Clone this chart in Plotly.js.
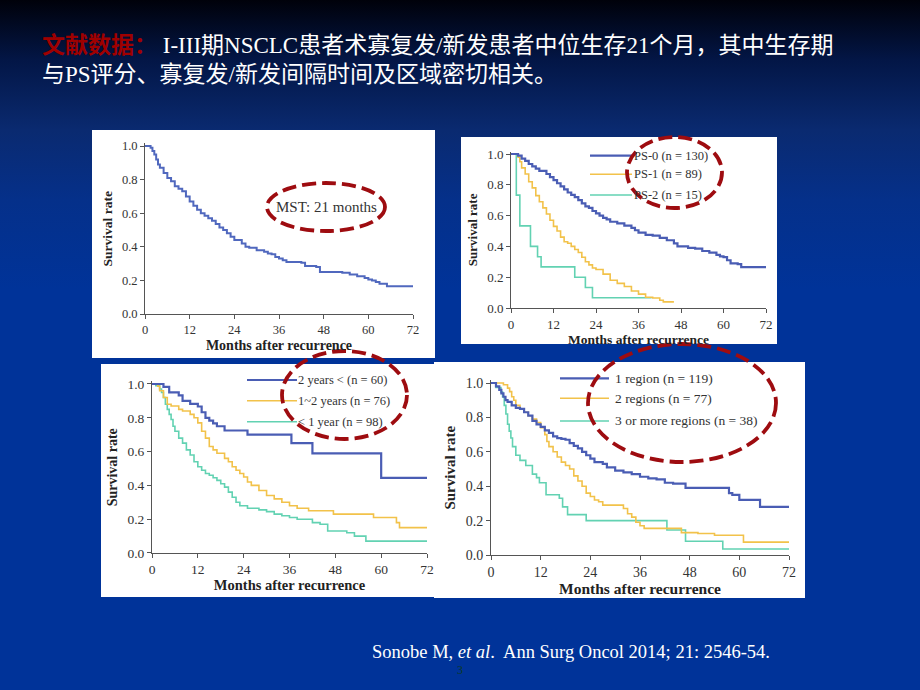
<!DOCTYPE html>
<html>
<head>
<meta charset="utf-8">
<script src="https://cdn.plot.ly/plotly-3.0.1.min.js"></script>
<style>
html,body{margin:0;padding:0;}
body{width:920px;height:690px;overflow:hidden;
background:linear-gradient(to bottom,#00010a 0px,#031646 60px,#0a2a70 130px,#05308a 200px,#003399 290px,#003399 690px);}
#chart{width:920px;height:690px;}
</style>
</head>
<body>
<div id="chart"></div>
<script>
// ---------- data ----------
const xTickVals = [0, 12, 24, 36, 48, 60, 72];
const yTickVals = [0, 0.2, 0.4, 0.6, 0.8, 1.0];
const yTickText = ['0.0', '0.2', '0.4', '0.6', '0.8', '1.0'];

// Panel 1: all patients (MST 21 months)
const allT = [0,1.5,2,2.5,3,3.5,4,5,6,7,8,9,10,11,12,13,14,15,16,17,18,19,20,21,22,23,24,26,27,28,30,32,33,34,35,36,37,38,42,43,46,47,53,55,57,59,60,61,62,63,65,72];
const allS = [1,0.99,0.97,0.95,0.92,0.89,0.87,0.84,0.81,0.79,0.76,0.745,0.73,0.70,0.67,0.645,0.62,0.60,0.585,0.57,0.555,0.535,0.515,0.50,0.48,0.46,0.44,0.42,0.40,0.395,0.38,0.37,0.36,0.355,0.34,0.33,0.32,0.31,0.305,0.285,0.28,0.25,0.245,0.235,0.225,0.215,0.205,0.20,0.19,0.18,0.165,0.165];

// Panel 2: PS
const ps0T = [0,2,3,4,5,6,7,8,9,10,11,12,13,14,15,16,17,18,19,20,21,22,23,24,25,26,27,28,30,32,34,35,36,38,40,42,44,46,47,50,52,54,56,58,59,60,61,62,64,65,72];
const ps0S = [1,0.99,0.97,0.955,0.935,0.92,0.905,0.89,0.89,0.87,0.85,0.83,0.81,0.79,0.77,0.75,0.735,0.72,0.70,0.68,0.66,0.65,0.63,0.615,0.60,0.585,0.575,0.56,0.55,0.535,0.52,0.505,0.49,0.475,0.47,0.455,0.44,0.42,0.40,0.39,0.385,0.37,0.36,0.345,0.335,0.33,0.31,0.29,0.285,0.265,0.265];
const ps1T = [0,2,2.5,3,4,5,6,7,8,9,10,11,12,13,14,15,16,17,18,19,20,21,22,23,24,26,28,30,32,34,36,38,40,42,43,46];
const ps1S = [1,0.98,0.95,0.91,0.87,0.82,0.78,0.73,0.69,0.65,0.61,0.57,0.53,0.50,0.46,0.43,0.42,0.40,0.38,0.36,0.33,0.30,0.28,0.26,0.25,0.22,0.18,0.16,0.14,0.11,0.09,0.07,0.065,0.05,0.04,0.04];
const ps2T = [0,1.5,2.5,5.5,7.5,8.5,18,21,23,39.7];
const ps2S = [1,0.733,0.533,0.4,0.333,0.267,0.2,0.133,0.067,0.067];

// Panel 3: interval to recurrence
const y2T = [0,3,4.5,7,8,10,12,13,14,15,16,17,19,25,36.5,42,60,72];
const y2S = [1,0.983,0.95,0.933,0.90,0.883,0.867,0.833,0.80,0.783,0.767,0.75,0.725,0.70,0.65,0.59,0.445,0.445];
const y12T = [0,1.5,2,3,4,5,7,8,10,11,12,13,14,15,16,17,19,20,21,22,23,24,25,26,28,30,32,34,36,38,41,47.5,58,64,64.8,72];
const y12S = [1,0.987,0.96,0.92,0.88,0.87,0.85,0.84,0.82,0.80,0.77,0.72,0.68,0.63,0.61,0.59,0.56,0.54,0.51,0.49,0.47,0.45,0.42,0.40,0.37,0.34,0.32,0.30,0.28,0.265,0.25,0.23,0.21,0.18,0.15,0.15];
const y1T = [0,1,2,2.5,3,3.5,4,4.5,5,5.5,6,7,8,9,10,11,12,13,14,15,16,17,18,19,20,21,22,23,25,28,30,32,34,36,38,42,44,46,51,53,56,72];
const y1S = [1,0.99,0.97,0.95,0.92,0.88,0.85,0.82,0.79,0.75,0.72,0.68,0.65,0.61,0.58,0.54,0.51,0.49,0.47,0.46,0.445,0.43,0.41,0.39,0.36,0.33,0.30,0.28,0.265,0.255,0.245,0.23,0.22,0.21,0.20,0.18,0.17,0.13,0.12,0.10,0.07,0.07];

// Panel 4: number of recurrence regions
const r1T = [0,1.2,2,2.5,3,3.5,4,5,6,7,8,9,10,11,12,13,14,15,16,17,18,19,20,21,22,23,24,25,27,28,30,32,34,36,38,40,42,44,47,57.5,58.3,60,65,72];
const r1S = [1,0.98,0.96,0.94,0.92,0.90,0.89,0.87,0.855,0.85,0.83,0.81,0.78,0.76,0.745,0.725,0.71,0.69,0.68,0.675,0.67,0.65,0.635,0.62,0.60,0.58,0.56,0.54,0.53,0.51,0.49,0.48,0.47,0.455,0.445,0.44,0.42,0.415,0.39,0.36,0.35,0.32,0.28,0.28];
const r2T = [0,3,4,4.5,5,5.5,6,7,8,9,10,11,12,13,13.5,14,15,16,17,18,19,20,21,22,23,24,25,26,27,32,33,34,35,36,37,46,50,54,61,72];
const r2S = [1,0.99,0.97,0.95,0.92,0.90,0.87,0.85,0.83,0.81,0.79,0.77,0.74,0.70,0.66,0.63,0.60,0.57,0.54,0.52,0.50,0.46,0.43,0.40,0.36,0.34,0.32,0.31,0.29,0.27,0.24,0.22,0.19,0.17,0.155,0.13,0.125,0.115,0.075,0.075];
const r3T = [0,1.2,2.4,2.8,3.2,3.6,4,4.4,4.8,5.2,6,7,8.4,10,11,11.7,13.3,16.5,17.3,18.5,23,42.5,47,56,72];
const r3S = [1,0.974,0.947,0.92,0.87,0.82,0.76,0.72,0.68,0.63,0.58,0.55,0.52,0.47,0.45,0.42,0.35,0.33,0.28,0.235,0.20,0.145,0.08,0.035,0.035];

const psLabels = ['PS-0 (n = 130)', 'PS-1 (n = 89)', 'PS-2 (n = 15)'];
const intLabels = ['2 years < (n = 60)', '1~2 years (n = 76)', '< 1 year (n = 98)'];
const regLabels = ['1 region (n = 119)', '2 regions (n = 77)', '3 or more regions (n = 38)'];

// ---------- styling / layout ----------
const W = 920, H = 690;
const PX = x => x / W;
const PY = y => 1 - y / H;
const BLUE = '#4a5db4', YEL = '#f2c24a', GRN = '#62d2b2', RED = '#9e0c10';
const SERIF = 'Liberation Serif, Times New Roman, serif';
const YTOP = 1.015;

// pixel geometry of each panel: white box, x-axis px (0..72), y-axis px (0..1)
const panels = [
  {box:[92,130,435,358], ax:[145,413], ay:[314,146], tick:12.5, title:14, st:4},
  {box:[461,137,777,344], ax:[511,766], ay:[308,154], tick:13, title:13.5, st:0},
  {box:[101,364,434,597], ax:[152,427], ay:[553,384], tick:13.5, title:14.5, st:0},
  {box:[434,362,805,598], ax:[491,789], ay:[555,383], tick:14, title:15.5, st:3}
];

const layout = {
  width: W, height: H,
  margin: {l:0, r:0, t:0, b:0},
  paper_bgcolor: 'rgba(0,0,0,0)',
  plot_bgcolor: 'rgba(0,0,0,0)',
  showlegend: false,
  shapes: [], annotations: []
};

panels.forEach((p, i) => {
  const n = i === 0 ? '' : String(i + 1);
  const yTopPx = p.ay[0] - YTOP * (p.ay[0] - p.ay[1]);
  layout['xaxis' + n] = {
    domain: [PX(p.ax[0]), PX(p.ax[1])], range: [0, 72], anchor: 'y' + n,
    tickmode: 'array', tickvals: xTickVals, ticktext: xTickVals.map(String),
    showline: true, linecolor: '#555', linewidth: 1, ticks: 'outside', ticklen: 4, tickcolor: '#555',
    showgrid: false, zeroline: false, fixedrange: true,
    tickfont: {family: SERIF, size: p.tick, color: '#333'},
    title: {text: '<b>Months after recurrence</b>', standoff: p.st, font: {family: SERIF, size: p.title, color: '#222'}}
  };
  layout['yaxis' + n] = {
    domain: [PY(p.ay[0]), PY(yTopPx)], range: [0, YTOP], anchor: 'x' + n,
    tickmode: 'array', tickvals: yTickVals, ticktext: yTickText,
    showline: true, linecolor: '#555', linewidth: 1, ticks: 'outside', ticklen: 4, tickcolor: '#555',
    showgrid: false, zeroline: false, fixedrange: true,
    tickfont: {family: SERIF, size: p.tick, color: '#333'},
    title: {text: '<b>Survival rate</b>', standoff: 6, font: {family: SERIF, size: p.title - 0.5, color: '#222'}}
  };
  layout.shapes.push({type: 'rect', xref: 'paper', yref: 'paper', layer: 'below',
    x0: PX(p.box[0]), x1: PX(p.box[2]), y0: PY(p.box[3]), y1: PY(p.box[1]),
    fillcolor: '#ffffff', line: {width: 0}});
});

function km(T, S, n, color, width) {
  const k = n === 1 ? '' : String(n);
  return {x: T, y: S, xaxis: 'x' + k, yaxis: 'y' + k, type: 'scatter', mode: 'lines',
    line: {shape: 'hv', color: color, width: width}, hoverinfo: 'skip', showlegend: false};
}

const data = [
  km(allT, allS, 1, '#5068be', 2),
  km(ps2T, ps2S, 2, GRN, 1.6), km(ps1T, ps1S, 2, YEL, 1.6), km(ps0T, ps0S, 2, BLUE, 2.2),
  km(y1T, y1S, 3, GRN, 1.6), km(y12T, y12S, 3, YEL, 1.6), km(y2T, y2S, 3, BLUE, 2.2),
  km(r3T, r3S, 4, GRN, 1.6), km(r2T, r2S, 4, YEL, 1.6), km(r1T, r1S, 4, BLUE, 2.2)
];

// in-plot legends (line sample + label)
const legends = [
  {labels: psLabels, x0: 590, x1: 632, tx: 632, ys: [155.7, 174.3, 195], size: 12.5},
  {labels: intLabels, x0: 247, x1: 297, tx: 296, ys: [380, 400.7, 421.7], size: 12.5},
  {labels: regLabels, x0: 560, x1: 609, tx: 613, ys: [378.3, 398.3, 421], size: 13.5}
];
const legColors = [BLUE, YEL, GRN];
legends.forEach(L => {
  L.labels.forEach((lab, j) => {
    layout.shapes.push({type: 'line', xref: 'paper', yref: 'paper',
      x0: PX(L.x0), x1: PX(L.x1), y0: PY(L.ys[j]), y1: PY(L.ys[j]),
      line: {color: legColors[j], width: j === 0 ? 2.2 : 1.6}});
    layout.annotations.push({xref: 'paper', yref: 'paper', x: PX(L.tx), y: PY(L.ys[j]),
      xanchor: 'left', yanchor: 'middle', showarrow: false, text: lab,
      font: {family: SERIF, size: L.size, color: '#333'}});
  });
});

// MST label
layout.annotations.push({xref: 'paper', yref: 'paper', x: PX(326), y: PY(207),
  xanchor: 'center', yanchor: 'middle', showarrow: false, text: 'MST: 21 months',
  font: {family: SERIF, size: 15, color: '#333'}});

// red dashed ellipses
const ellipses = [[267, 183, 385, 231], [627, 137, 722, 208], [282, 351, 407, 439], [588, 344, 776, 462]];
ellipses.forEach(e => layout.shapes.push({type: 'circle', xref: 'paper', yref: 'paper',
  x0: PX(e[0]), x1: PX(e[2]), y0: PY(e[3]), y1: PY(e[1]),
  line: {color: RED, width: 3.8, dash: '14px,6px'}}));

// slide heading
const CJK = 'Liberation Serif, Noto Sans CJK SC, sans-serif';
layout.annotations.push({xref: 'paper', yref: 'paper', x: PX(40), y: PY(45), xanchor: 'left', yanchor: 'middle',
  showarrow: false,
  text: '<span style="color:#a00000"><b>文献数据：</b></span> I-III期NSCLC患者术寡复发/新发患者中位生存21个月，其中生存期',
  font: {family: CJK, size: 23, color: '#ffffff'}});
layout.annotations.push({xref: 'paper', yref: 'paper', x: PX(40), y: PY(74), xanchor: 'left', yanchor: 'middle',
  showarrow: false, text: '与PS评分、寡复发/新发间隔时间及区域密切相关。',
  font: {family: CJK, size: 23, color: '#ffffff'}});

// citation and page number
layout.annotations.push({xref: 'paper', yref: 'paper', x: PX(370), y: PY(652), xanchor: 'left', yanchor: 'middle',
  showarrow: false, text: 'Sonobe M, <i>et al</i>.  Ann Surg Oncol 2014; 21: 2546-54.',
  font: {family: SERIF, size: 18.5, color: '#ffffff'}});
layout.annotations.push({xref: 'paper', yref: 'paper', x: PX(460), y: PY(670), xanchor: 'center', yanchor: 'middle',
  showarrow: false, text: '3', font: {family: SERIF, size: 12, color: '#0b3a22'}});

Plotly.newPlot('chart', data, layout, {staticPlot: true, displayModeBar: false});
</script>
</body>
</html>
